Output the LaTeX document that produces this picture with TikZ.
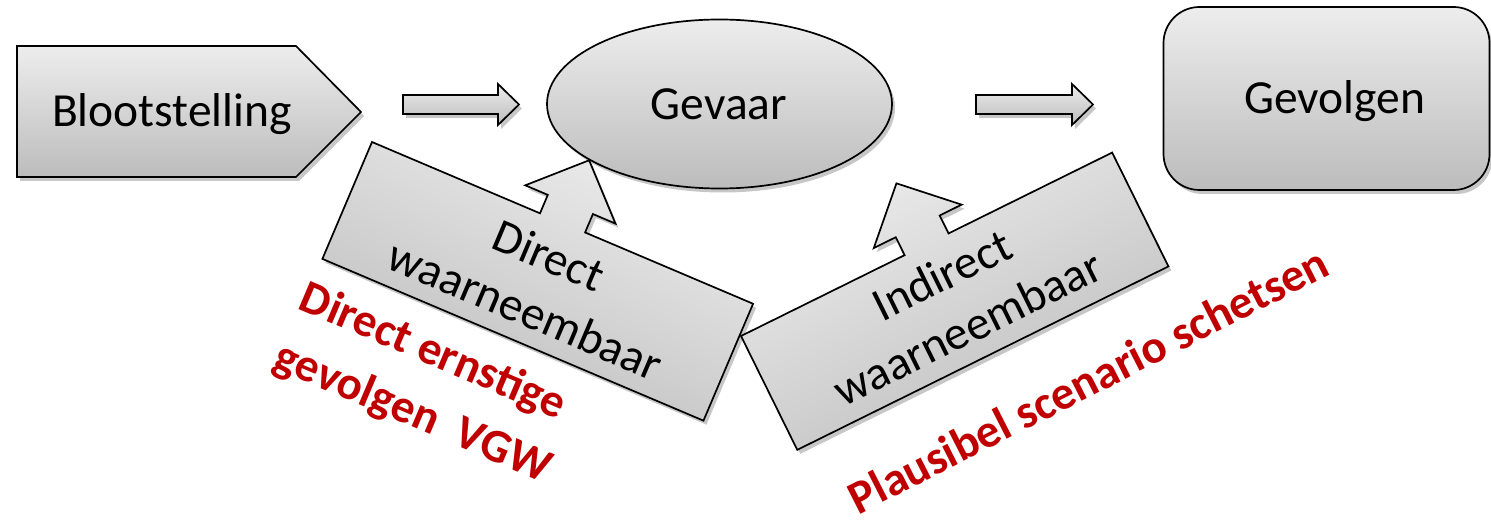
\documentclass[tikz,border=0pt]{standalone}
\usepackage{fontspec}
\setmainfont{Carlito}
\usetikzlibrary{shapes.geometric,shadows}
\definecolor{shtop}{RGB}{237,237,237}
\definecolor{shbot}{RGB}{188,188,188}
\definecolor{darkred}{RGB}{192,0,0}
\tikzset{
  shp/.style={draw=black, line width=1.7pt, line join=miter, top color=shtop, bottom color=shbot,
    drop shadow={shadow xshift=3pt, shadow yshift=-4pt, opacity=0.22, fill=black}},
  lbl/.style={font=\fontsize{47.5}{59}\selectfont, align=center, inner sep=0pt},
  redlbl/.style={font=\fontsize{47}{64}\selectfont\bfseries, text=darkred, inner sep=0pt},
}
\begin{document}
\begin{tikzpicture}[x=1pt,y=-1pt]
\useasboundingbox (0,0) rectangle (1491,521);
% Blootstelling
\draw[shp] (17,46) -- (296,46) -- (361,112) -- (296,177) -- (17,177) -- cycle;
\node[lbl, anchor=base] (tblo) at (172,127) {Blootstelling};
% block arrows
\draw[shp] (403,95) -- (498,95) -- (498,84) -- (519,104.5) -- (498,125) -- (498,114) -- (403,114) -- cycle;
\draw[shp] (976,95) -- (1072,95) -- (1072,84) -- (1093,104.5) -- (1072,125) -- (1072,114) -- (976,114) -- cycle;
% Direct callout
\begin{scope}[shift={(372,142)}, rotate=-23]
\draw[shp, shading angle=-23] (0,0) -- (182.5,0) -- (182.5,-20) -- (158,-20) -- (207,-68) -- (256,-20)
  -- (231.5,-20) -- (231.5,0) -- (414,0) -- (414,127) -- (0,127) -- cycle;
\end{scope}
% Indirect callout
\begin{scope}[shift={(741,336)}, rotate=26.3]
\draw[shp, shading angle=26.3] (0,0) -- (182.5,0) -- (182.5,-20) -- (158,-20) -- (207,-68) -- (256,-20)
  -- (231.5,-20) -- (231.5,0) -- (414,0) -- (414,127) -- (0,127) -- cycle;
\end{scope}
% Gevaar
\node[shp, ellipse, minimum width=345pt, minimum height=169pt, inner sep=0pt] (gevaar) at (719.5,104) {};
\node[lbl, anchor=base] (tgev) at (719,120) {Gevaar};
% Gevolgen
\node[shp, rectangle, rounded corners=36pt, minimum width=326pt, minimum height=183pt, inner sep=0pt] (gevolgen) at (1326.5,98.5) {};
\node[lbl, anchor=base] (tgvl) at (1334.5,114) {Gevolgen};
% callout texts
\node[lbl, rotate=-23] (tdir) at (537.2,282.5) {Direct\\waarneembaar};
\node[lbl, rotate=26.3] (tind) at (954.7,301.2) {Indirect\\waarneembaar};
% red texts
\node[redlbl, align=left, rotate=-23] (rdir) at (425,384) {Direct ernstige\\gevolgen\ \ VGW};
\node[redlbl, rotate=27] (rpla) at (1088,380) {Plausibel scenario schetsen};
\end{tikzpicture}
\end{document}
